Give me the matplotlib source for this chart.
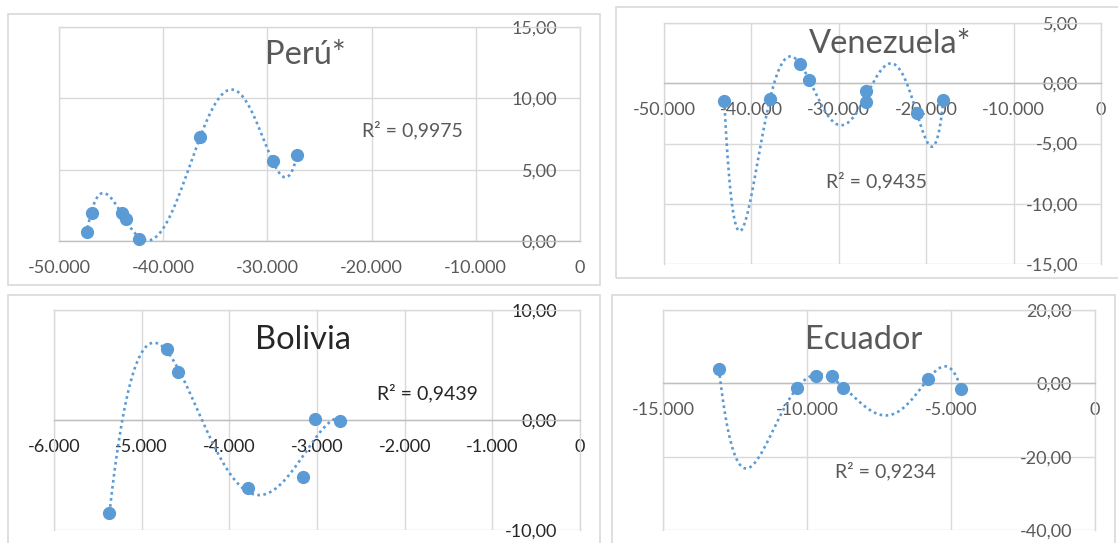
import numpy as np
import matplotlib
matplotlib.use('Agg')
import matplotlib.pyplot as plt
from matplotlib.patches import Rectangle
from matplotlib.ticker import FuncFormatter, MultipleLocator

plt.rcParams['font.family'] = ['Lato', 'DejaVu Sans']

W, H = 1118, 543

# data (x, y)
peru_x = [-47360, -46850, -43980, -43540, -42330, -36450, -29510, -27160]
peru_y = [0.65, 1.94, 1.98, 1.52, 0.12, 7.31, 5.61, 6.00]

vene_x = [-43100, -37870, -34440, -33370, -26920, -26920, -21080, -18030]
vene_y = [-1.47, -1.30, 1.63, 0.25, -0.64, -1.58, -2.46, -1.41]

boli_x = [-5367, -4708, -4585, -3787, -3163, -3027, -2735]
boli_y = [-8.43, 6.43, 4.36, -6.15, -5.15, 0.12, -0.06]

ecua_x = [-13056, -10359, -9688, -9144, -8738, -5787, -4653]
ecua_y = [3.82, -1.27, 2.00, 2.00, -1.27, 1.27, -1.45]

panels = [
    dict(title='Perú*', x=peru_x, y=peru_y, deg=5, r2='R² = 0,9975',
         xlim=(-50000, 0), ylim=(0, 15), xstep=10000, ystep=5,
         frame=(8, 14, 600, 285), box=(59, 27, 580, 241),
         tpos=(305, 55), rpos=(412, 130), tcol='#595959'),
    dict(title='Venezuela*', x=vene_x, y=vene_y, deg=6, r2='R² = 0,9435',
         xlim=(-50000, 0), ylim=(-15, 5), xstep=10000, ystep=5,
         frame=(616, 7, 1130, 278), box=(664, 23, 1101, 264),
         tpos=(890, 44), rpos=(877, 181), tcol='#595959'),
    dict(title='Bolivia', x=boli_x, y=boli_y, deg=4, r2='R² = 0,9439',
         xlim=(-6000, 0), ylim=(-10, 10), xstep=1000, ystep=10,
         frame=(8, 295, 600, 560), box=(54, 310, 580, 530),
         tpos=(303, 340), rpos=(427, 393), tcol='#262626'),
    dict(title='Ecuador', x=ecua_x, y=ecua_y, deg=5, r2='R² = 0,9234',
         xlim=(-15000, 0), ylim=(-40, 20), xstep=5000, ystep=20,
         frame=(612, 295, 1115, 560), box=(663, 310, 1095, 530),
         tpos=(864, 340), rpos=(885, 471), tcol='#595959'),
]

blue = '#5B9BD5'
grid = '#D9D9D9'

fig = plt.figure(figsize=(W / 100, H / 100), dpi=100)

for p in panels:
    x0, y0, x1, y1 = p['frame']
    fig.patches.append(Rectangle((x0 / W, 1 - y1 / H), (x1 - x0) / W, (y1 - y0) / H,
                                 transform=fig.transFigure, fill=False,
                                 edgecolor=grid, lw=1.2))

    x0, y0, x1, y1 = p['box']
    ax = fig.add_axes([x0 / W, 1 - y1 / H, (x1 - x0) / W, (y1 - y0) / H])
    ax.set_xlim(*p['xlim'])
    ax.set_ylim(*p['ylim'])
    ax.xaxis.set_major_locator(MultipleLocator(p['xstep']))
    ax.yaxis.set_major_locator(MultipleLocator(p['ystep']))
    ax.xaxis.set_major_formatter(FuncFormatter(lambda v, pos: f"{v:,.0f}".replace(",", ".")))
    ax.yaxis.set_major_formatter(FuncFormatter(lambda v, pos: f"{v:.2f}".replace(".", ",")))
    ax.grid(True, color=grid, lw=1.0)
    ax.set_axisbelow(True)
    for s in ax.spines.values():
        s.set_color(grid)
        s.set_linewidth(1.0)
    ax.spines['bottom'].set_position(('data', 0))
    ax.spines['bottom'].set_color('#BFBFBF')

    lab_col = '#262626' if p['title'] == 'Bolivia' else '#595959'
    ax.tick_params(axis='both', length=0, labelcolor=lab_col, labelsize=13)
    ax.tick_params(axis='x', pad=13.5)
    ax.yaxis.tick_right()
    ax.tick_params(axis='y', pad=-16.6)
    for t in ax.yaxis.get_major_ticks():
        t.label2.set_horizontalalignment('right')

    # polynomial trendline, like the spreadsheet's
    xs = np.array(p['x']) / 1000.0
    coef = np.polyfit(xs, p['y'], p['deg'])
    xx = np.linspace(xs.min(), xs.max(), 400)
    ax.plot(xx * 1000, np.polyval(coef, xx), color=blue, lw=1.9,
            linestyle=(0, (1, 1.3)), zorder=3, clip_on=False)
    ax.plot(p['x'], p['y'], 'o', color=blue, ms=8.5, zorder=4, clip_on=False)

    fig.text(p['tpos'][0] / W, 1 - p['tpos'][1] / H, p['title'], fontsize=23.5,
             color=p['tcol'], ha='center', va='center')
    fig.text(p['rpos'][0] / W, 1 - p['rpos'][1] / H, p['r2'], fontsize=14,
             color=p['tcol'], ha='center', va='center')

fig.savefig('out.png', dpi=100, facecolor='white')
